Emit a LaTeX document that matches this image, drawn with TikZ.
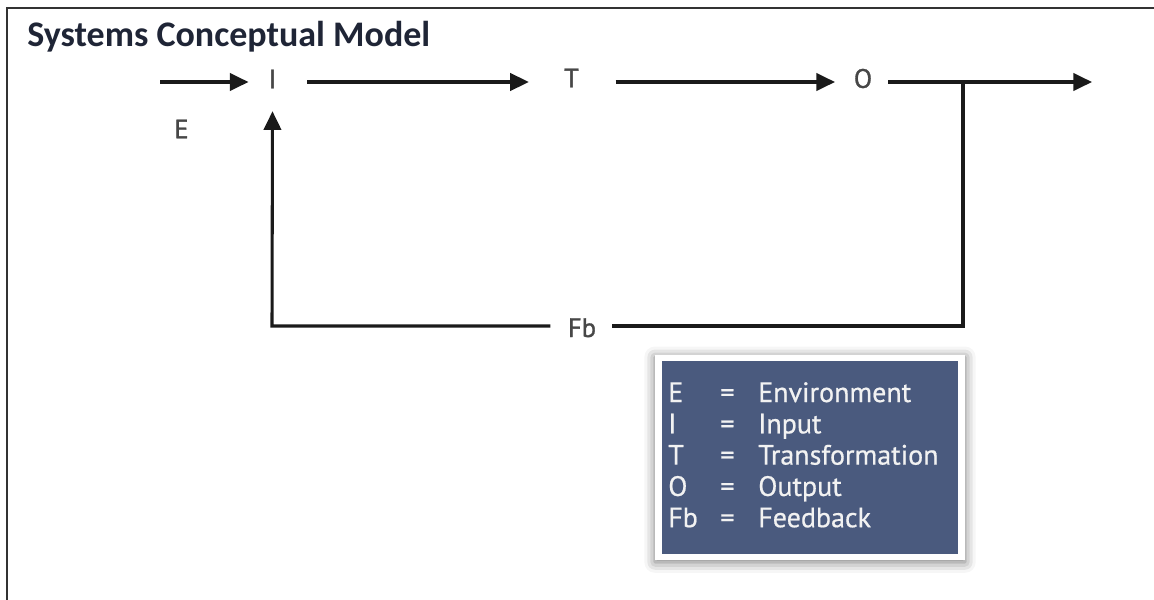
\documentclass[tikz,border=0pt]{standalone}
\usepackage{fontspec}
\setmainfont{PT Sans}
\newfontfamily\titlefont{Carlito}
\newfontfamily\labelfont[FakeBold=1.2]{PT Sans}
\newfontfamily\legendfont[FakeBold=0.6]{PT Sans}
\usetikzlibrary{arrows.meta,shadows.blur}
\definecolor{inkline}{HTML}{1A1A1A}
\definecolor{letter}{HTML}{474747}
\definecolor{titleink}{HTML}{1F2536}
\definecolor{legendblue}{HTML}{4A5A7E}
\definecolor{legendtext}{HTML}{F2F2F2}
\tikzset{
  flow/.style={line width=2.3pt, draw=inkline},
  arr/.style={flow, -{Triangle[length=14pt,width=13pt]}},
  letterlbl/.style={font=\labelfont\fontsize{20}{23}\selectfont, text=letter, inner sep=0pt},
  legendtxt/.style={font=\legendfont\fontsize{21}{24}\selectfont, text=legendtext, inner sep=0pt, anchor=base west},
}
\begin{document}
\begin{tikzpicture}[x=0.75pt,y=-0.75pt]
\useasboundingbox (0,0) rectangle (1154,600);
% outer frame (left and top edges)
\draw[line width=2pt, draw=black!80] (7,600) -- (7,8) -- (1154,8);

% title
\node[anchor=base west, inner sep=0pt, text=titleink,
      font=\titlefont\bfseries\fontsize{27}{30}\selectfont] (title) at (27,46) {Systems Conceptual Model};

% main flow labels
\node[letterlbl] (I) at (272.5,79) {I};
\node[letterlbl] (T) at (571.5,78) {T};
\node[letterlbl] (O) at (863,78.5) {O};
\node[letterlbl] (E) at (181.5,129) {E};
\node[letterlbl, anchor=base] (Fb) at (582,337) {Fb};

\coordinate (envin) at (160,82);
\coordinate (outend) at (1092,82);
\coordinate (split) at (963,82);
\coordinate (fbright) at (963,326);
\coordinate (fbleft) at (272,326);

% forward path
\draw[arr, shorten >=18pt] (envin) -- (I.center |- envin);
\draw[arr, shorten <=26pt, shorten >=32pt] (I.center |- envin) -- (T.center |- envin);
\draw[arr, shorten <=33pt, shorten >=21pt] (T.center |- envin) -- (O.center |- envin);
\draw[arr, shorten <=19pt] (O.center |- envin) -- (outend);

% feedback loop
\draw[flow, line join=miter] (split) -- (fbright) -- ([xshift=12pt]Fb.east |- fbright);
\draw[arr, line join=miter] ([xshift=-13pt]Fb.west |- fbleft) -- (fbleft) -- ([yshift=-17pt]I.south);

% legend
\node[fill=white, minimum width=310*0.75pt, minimum height=205*0.75pt, inner sep=0pt,
      blur shadow={shadow xshift=0pt, shadow yshift=-2pt, shadow blur radius=8pt, shadow opacity=55}]
      (legendframe) at (810,457) {};
\node[fill=legendblue, minimum width=296*0.75pt, minimum height=193*0.75pt, inner sep=0pt]
      (legend) at (810,457) {};
\foreach \k/\sym/\word [count=\r from 0] in {E/E/Environment, I/I/Input, T/T/Transformation, O/O/Output, Fb/Fb/Feedback}{
  \node[legendtxt] (key\k) at (668,{402+31.3*\r}) {\sym};
  \node[legendtxt] (eq\k) at (720,{402+31.3*\r}) {=};
  \node[legendtxt] (val\k) at (758,{402+31.3*\r}) {\word};
}
\end{tikzpicture}
\end{document}
